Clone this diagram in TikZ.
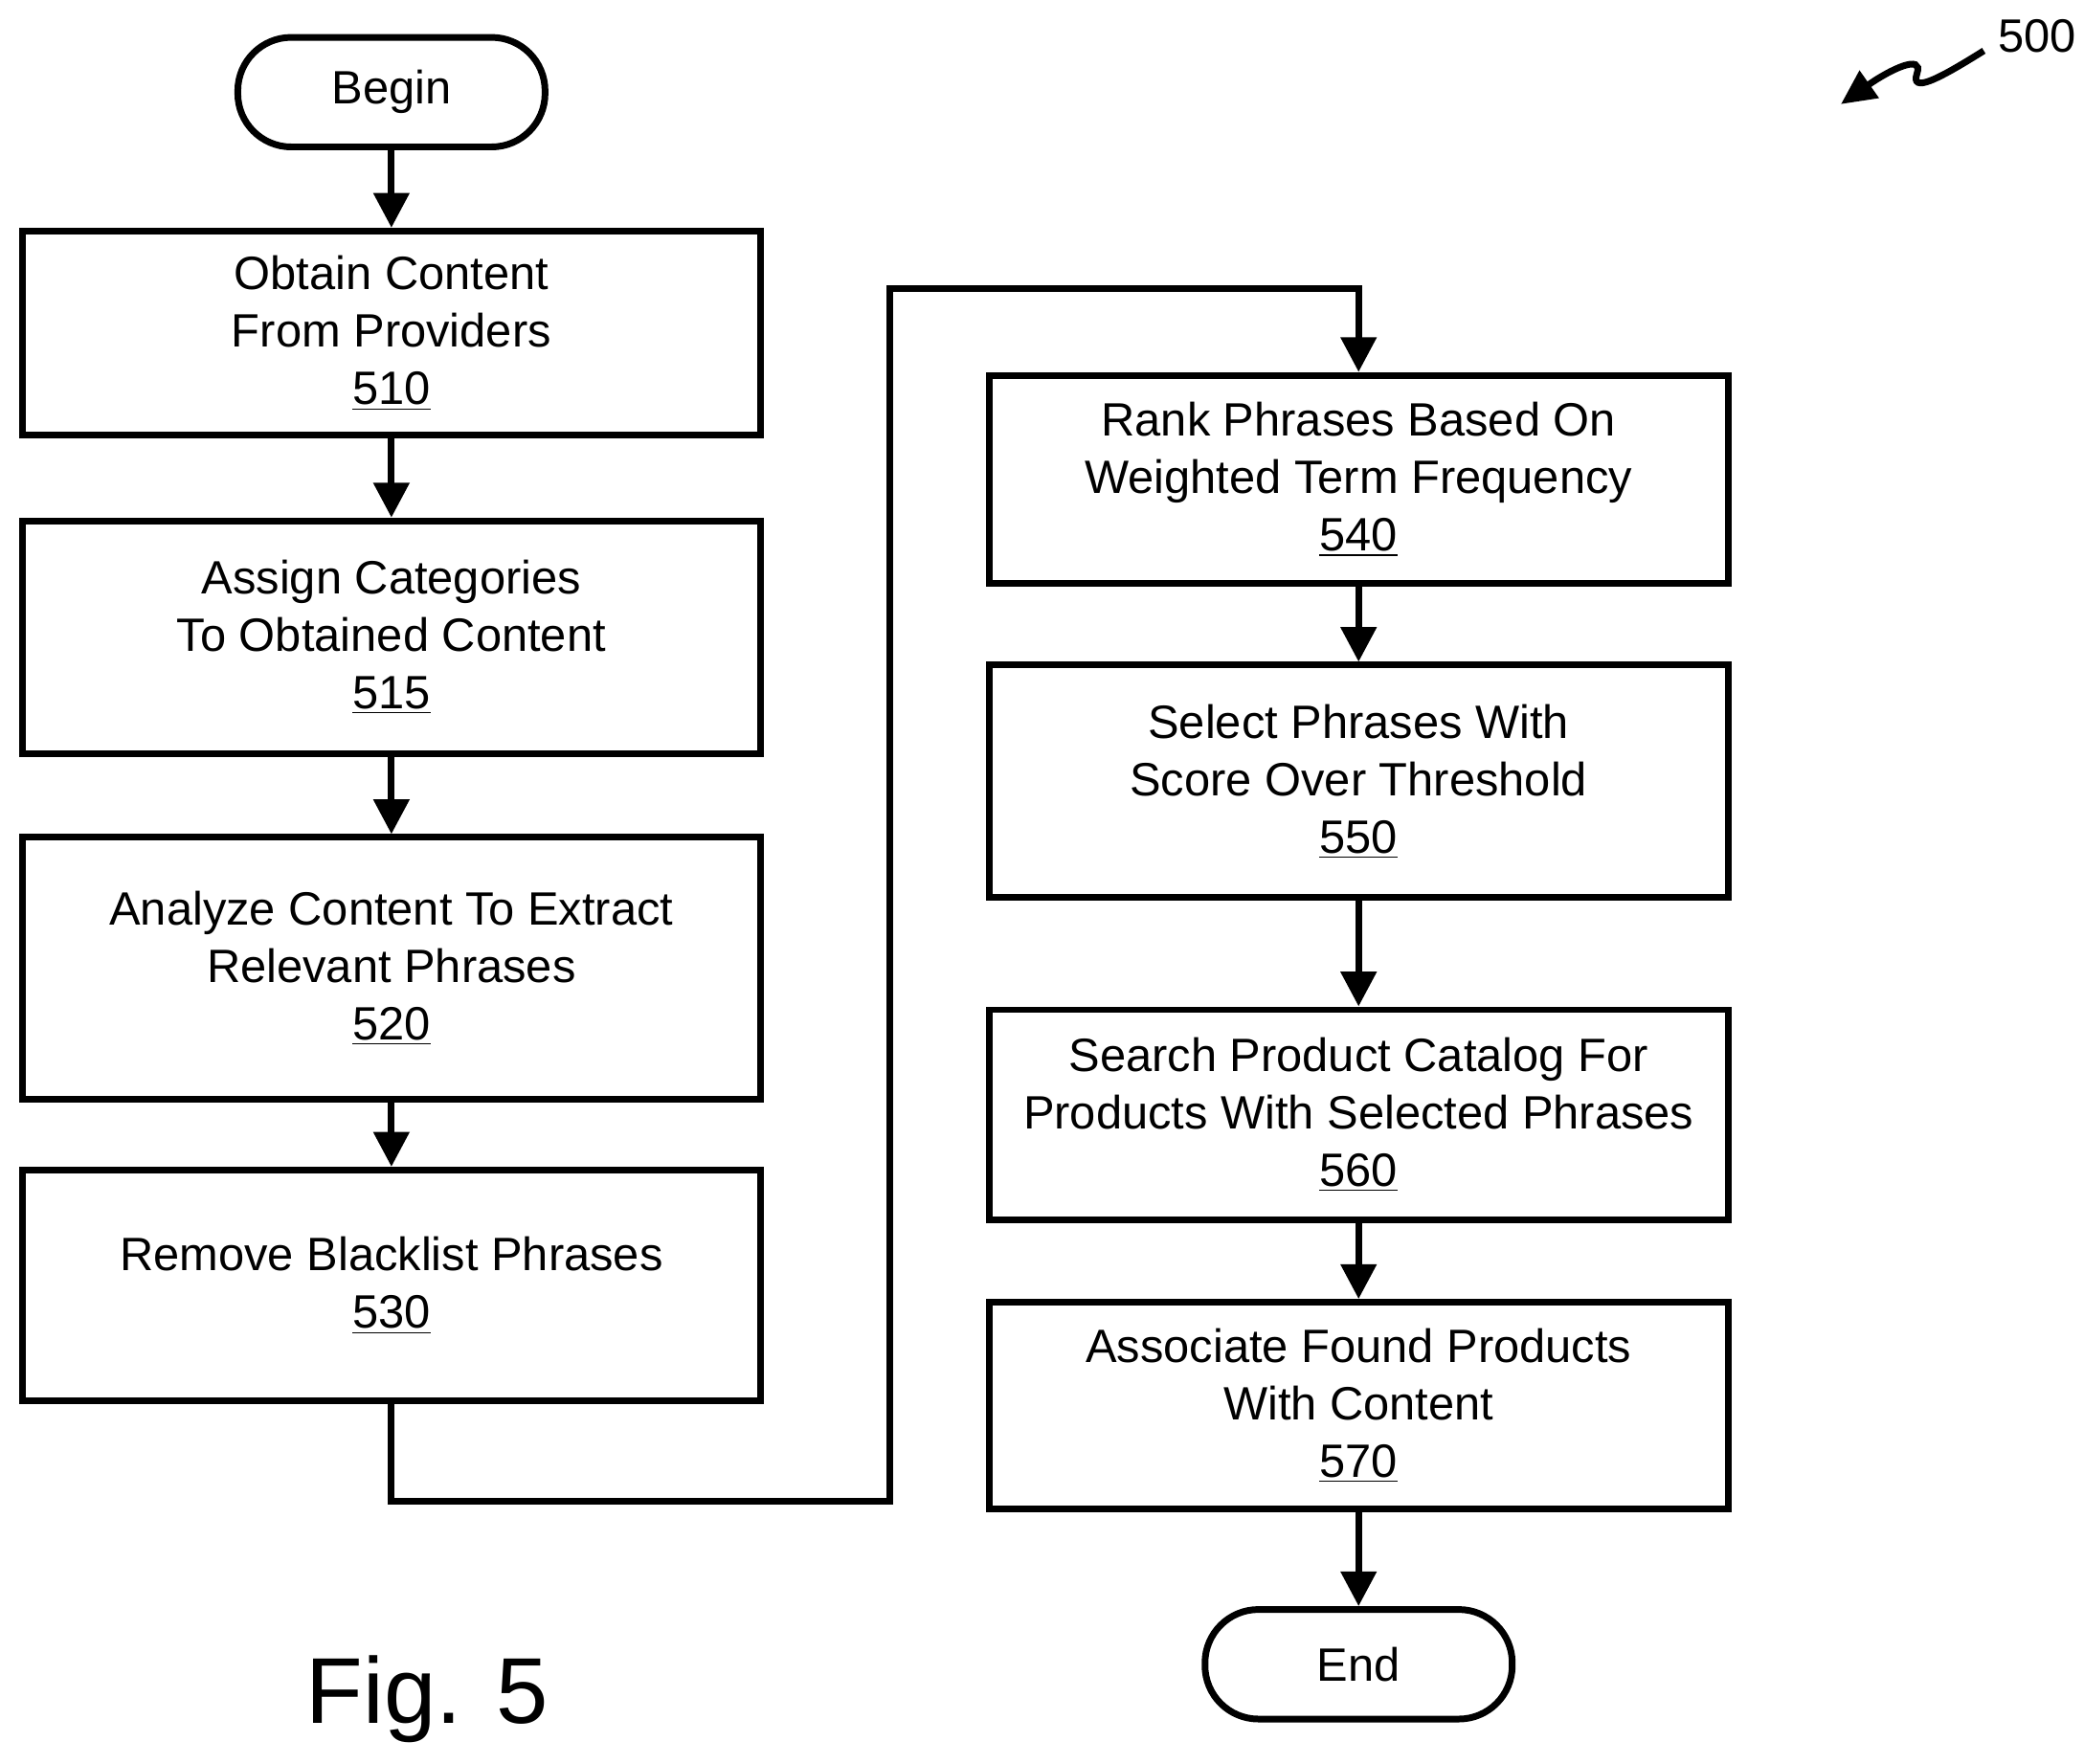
\documentclass[tikz,border=0pt]{standalone}
\usepackage{fontspec}
\setmainfont{Liberation Sans}
\usetikzlibrary{arrows.meta}
\begin{document}
\begin{tikzpicture}[x=0.5pt,y=-0.5pt,
  box/.style={draw,line width=2.5pt,minimum width=276.5pt,align=center,inner sep=0pt,font=\fontsize{17.5}{21.5}\selectfont},
  term/.style={draw,line width=2.5pt,rounded corners=20pt,minimum width=115pt,minimum height=41pt,font=\fontsize{17.5}{21.5}\selectfont},
  arr/.style={line width=2.5pt,-{Triangle[length=13pt,width=13pt]}}]
\useasboundingbox (0,0) rectangle (1560,1320);
\node[term] (b) at (293,69) {Begin};
\node[box,minimum height=76.5pt] (n510) at (293,249.5) {Obtain Content\\From Providers\\\underline{510}};
\node[box,minimum height=87pt] (n515) at (293,477) {Assign Categories\\To Obtained Content\\\underline{515}};
\node[box,minimum height=98pt] (n520) at (293,725) {Analyze Content To Extract\\Relevant Phrases\\\underline{520}};
\node[box,minimum height=86.5pt] (n530) at (293,962.5) {Remove Blacklist Phrases\\\underline{530}};
\node[box,minimum height=78pt] (n540) at (1017,359) {Rank Phrases Based On\\Weighted Term Frequency\\\underline{540}};
\node[box,minimum height=87pt] (n550) at (1017,585) {Select Phrases With\\Score Over Threshold\\\underline{550}};
\node[box,minimum height=78.5pt] (n560) at (1017,834.5) {Search Product Catalog For\\Products With Selected Phrases\\\underline{560}};
\node[box,minimum height=77.5pt] (n570) at (1017,1052.5) {Associate Found Products\\With Content\\\underline{570}};
\node[term] (e) at (1017,1246) {End};
\draw[arr] (b) -- (n510);
\draw[arr] (n510) -- (n515);
\draw[arr] (n515) -- (n520);
\draw[arr] (n520) -- (n530);
\draw[arr] (n530.south) |- (666,1124) |- (1017,216) -- (n540.north);
\draw[arr] (n540) -- (n550);
\draw[arr] (n550) -- (n560);
\draw[arr] (n560) -- (n570);
\draw[arr] (n570) -- (e);
\node[font=\fontsize{35}{40}\selectfont] (fig) at (320,1272) {Fig. 5};
\node[font=\fontsize{17.5}{20}\selectfont] (lbl) at (1525,27) {500};
\coordinate (s0) at (1485,38);
\coordinate (s1) at (1378,78);
\draw[line width=2.5pt,-{Triangle[length=13pt,width=12pt]}] (s0) .. controls (1450,60) and (1430,70) .. (1435,55) .. controls (1440,40) and (1415,52) .. (s1);
\end{tikzpicture}
\end{document}
